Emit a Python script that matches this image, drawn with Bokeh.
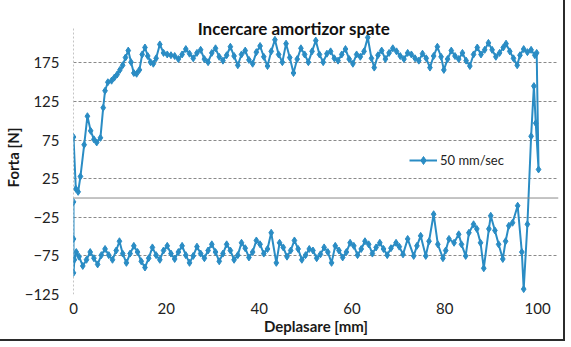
from bokeh.plotting import figure
from bokeh.models import FixedTicker, Span, Label, Legend, LegendItem
from bokeh.embed import file_html
from bokeh.resources import INLINE

title_text = "Incercare amortizor spate"
x_label = "Deplasare [mm]"
y_label = "Forta [N]"
series_name = "50 mm/sec"
x_ticks = [0, 20, 40, 60, 80, 100]
y_ticks = [-125, -75, -25, 25, 75, 125, 175]
y_axis_top = 220

# upper branch (compression), x in mm, force in N
top_x = [0, 0.5, 1, 1.5, 2.3, 3, 3.7, 4.4, 5, 5.8,
         6.4, 6.8, 7.4, 8.2, 8.8, 9.4, 10, 10.6, 11.2, 11.8,
         12.4, 13, 13.6, 14.2, 14.8, 15.4, 16, 16.6, 17.2, 17.8,
         18.6, 19.4, 20.2, 21, 21.8, 22.6, 23.4, 24.2, 25, 25.8,
         26.6, 27.4, 28.2, 29, 29.8, 30.6, 31.4, 32.2, 33, 33.8,
         34.6, 35.4, 36.2, 37, 37.8, 38.6, 39.4, 40.2, 41, 41.8,
         42.6, 43.4, 44.2, 45, 45.8, 46.6, 47.4, 48.2, 49, 49.8,
         50.6, 51.4, 52.2, 53, 53.8, 54.6, 55.4, 56.2, 57, 57.8,
         58.6, 59.4, 60.2, 61, 61.8, 62.6, 63.4, 64.2, 64.8, 65.6,
         66.4, 67.2, 68, 68.8, 69.6, 70.4, 71.2, 72, 72.8, 73.6,
         74.4, 75.2, 76, 76.8, 77.6, 78.4, 79.2, 79.8, 80.6, 81.4,
         82.2, 83, 83.8, 84.6, 85.4, 86.2, 87, 87.8, 88.6, 89.4,
         90.2, 91, 91.8, 92.6, 93.2, 94, 94.8, 95.6, 96.2, 97,
         97.8, 98.6, 99.4, 99.8]
top_f = [79, 12, 8, 28, 69, 106, 87, 76, 72, 78,
         117, 139, 150, 152, 156, 160, 166, 172, 182, 191,
         176, 162, 161, 166, 186, 195, 184, 176, 174, 181,
         199, 188, 186, 185, 184, 180, 186, 193, 187, 181,
         188, 192, 180, 176, 188, 194, 183, 178, 185, 196,
         184, 172, 186, 191, 179, 174, 189, 197, 183, 171,
         190, 205, 186, 176, 200, 182, 162, 180, 194, 186,
         176, 190, 204, 186, 176, 187, 190, 181, 178, 186,
         193, 180, 174, 186, 183, 190, 208, 181, 169, 185,
         191, 180, 188, 194, 190, 184, 180, 188, 186, 181,
         178, 187, 181, 169, 184, 196, 183, 166, 180, 191,
         184, 180, 188, 178, 171, 186, 195, 186, 192, 201,
         192, 183, 188, 195, 200, 190, 181, 172, 185, 193,
         189, 192, 185, 188]

# turning point at the end of the stroke
turn_x = [100.2, 99.6, 99.2, 98.6, 97.8, 97.0, 96.6]
turn_f = [37, 97, 145, 80, -34, -118, -70]

# lower branch (rebound)
bottom_x = [95.7, 94.6, 93.8, 93.1, 92.5, 91.6, 90.8, 89.9, 89.5, 88.4,
            87.7, 86.9, 86.2, 85.2, 84.5, 83.6, 83, 82, 80.9, 80.2,
            79.6, 78.5, 77.6, 76.6, 75.9, 74.8, 74, 73.3, 72, 71,
            70.2, 69.5, 68.4, 67.6, 66.8, 66, 65.2, 64.4, 63.6, 62.8,
            62, 61.2, 60.4, 59.6, 58.8, 58, 57.2, 56.4, 55.6, 54.8,
            54, 53.2, 52.4, 51.6, 50.8, 50, 49.2, 48.4, 47.6, 46.8,
            46, 45.2, 44.4, 43.7, 42.6, 41.8, 41, 40.2, 39.4, 38.6,
            37.8, 37, 36.2, 35.4, 34.6, 33.8, 33, 32.2, 31.4, 30.6,
            29.8, 29, 28.2, 27.4, 26.6, 25.8, 25, 24.2, 23.4, 22.6,
            21.8, 21, 20.2, 19.4, 18.6, 17.8, 17, 16.2, 15.4, 14.6,
            13.8, 13, 12.2, 11.4, 10.6, 9.9, 9.2, 8.4, 7.6, 6.8,
            6, 5.2, 4.4, 3.6, 2.8, 2, 1.2, 0.6, 0.2, 0,
            0, 0]
bottom_f = [-10, -32, -36, -56, -79, -60, -42, -23, -40, -91,
            -58, -40, -34, -45, -75, -60, -47, -58, -53, -68,
            -78, -60, -21, -56, -75, -49, -62, -75, -53, -73,
            -63, -58, -65, -74, -66, -58, -64, -72, -60, -56,
            -66, -74, -62, -58, -70, -77, -68, -62, -84, -70,
            -64, -73, -78, -68, -66, -74, -80, -66, -55, -68,
            -76, -64, -58, -84, -45, -66, -72, -60, -55, -70,
            -77, -65, -58, -74, -80, -68, -60, -72, -82, -70,
            -60, -68, -78, -72, -63, -75, -84, -74, -62, -70,
            -79, -72, -62, -68, -80, -74, -64, -78, -90, -82,
            -70, -62, -72, -84, -72, -56, -68, -80, -74, -66,
            -74, -86, -78, -70, -80, -88, -76, -70, -80, -97,
            -53, -5]

assert len(top_x) == len(top_f)
assert len(turn_x) == len(turn_f)
assert len(bottom_x) == len(bottom_f)

xs = top_x + turn_x + bottom_x
fs = top_f + turn_f + bottom_f

FONT = "Lato"
BLUE = "#2a8cc4"
GRID = "#8a8a8a"

p = figure(width=561, height=337, output_backend="svg", toolbar_location=None,
           x_range=(0, 104.5), y_range=(-125, 230),
           min_border_left=72, min_border_right=3, min_border_top=20, min_border_bottom=40)
p.styles = {"outline": "2px solid #2b2b2b", "outline-offset": "2px", "vertical-align": "top"}
p.background_fill_color = "white"
p.border_fill_color = "white"
p.outline_line_color = None

p.xgrid.grid_line_color = None
p.ygrid.grid_line_color = GRID
p.ygrid.grid_line_dash = "3 2"
p.ygrid.grid_line_width = 1

# zero line (horizontal axis) and vertical axis line at x = 0
p.add_layout(Span(location=0, dimension="width", line_color=GRID, line_width=1))
p.segment(x0=[x_ticks[0]], y0=[y_ticks[0]], x1=[x_ticks[0]], y1=[y_axis_top],
          line_color=GRID, line_dash="2 2", line_width=1)

r_line = p.line(xs, fs, line_color=BLUE, line_width=2)
r_mark = p.scatter(xs, fs, marker="diamond", size=7, fill_color=BLUE, line_color=BLUE)

# axes
p.xaxis.ticker = FixedTicker(ticks=x_ticks)
p.yaxis.ticker = FixedTicker(ticks=y_ticks)
for ax in (p.xaxis, p.yaxis):
    ax.axis_line_color = None
    ax.major_tick_line_color = None
    ax.minor_tick_line_color = None
    ax.major_tick_out = 0
    ax.major_tick_in = 0
    ax.minor_tick_out = 0
    ax.major_label_text_font = FONT
    ax.major_label_text_font_size = "15px"
    ax.major_label_text_color = "#222222"
    ax.axis_label_text_font = FONT
    ax.axis_label_text_font_size = "15px"
    ax.axis_label_text_font_style = "bold"
    ax.axis_label_text_color = "#1a1a1a"
    ax.axis_label_standoff = 0

p.xaxis.major_label_standoff = 8
p.xaxis.axis_label = x_label
p.yaxis.major_label_standoff = 14
p.yaxis.axis_label = y_label

p.add_layout(Label(x=47.5, y=219, text=title_text, text_align="center", text_baseline="middle",
                   text_font=FONT, text_font_size="17px", text_font_style="bold",
                   text_color="#111111"))

legend = Legend(items=[LegendItem(label=series_name, renderers=[r_line, r_mark])],
                location=(336, 124), background_fill_alpha=0, border_line_color=None,
                label_text_font=FONT, label_text_font_size="13px", label_text_color="#222222",
                glyph_width=28, padding=2, margin=0, label_standoff=3)
p.add_layout(legend)

open("out.html", "w").write(file_html(p, INLINE))
